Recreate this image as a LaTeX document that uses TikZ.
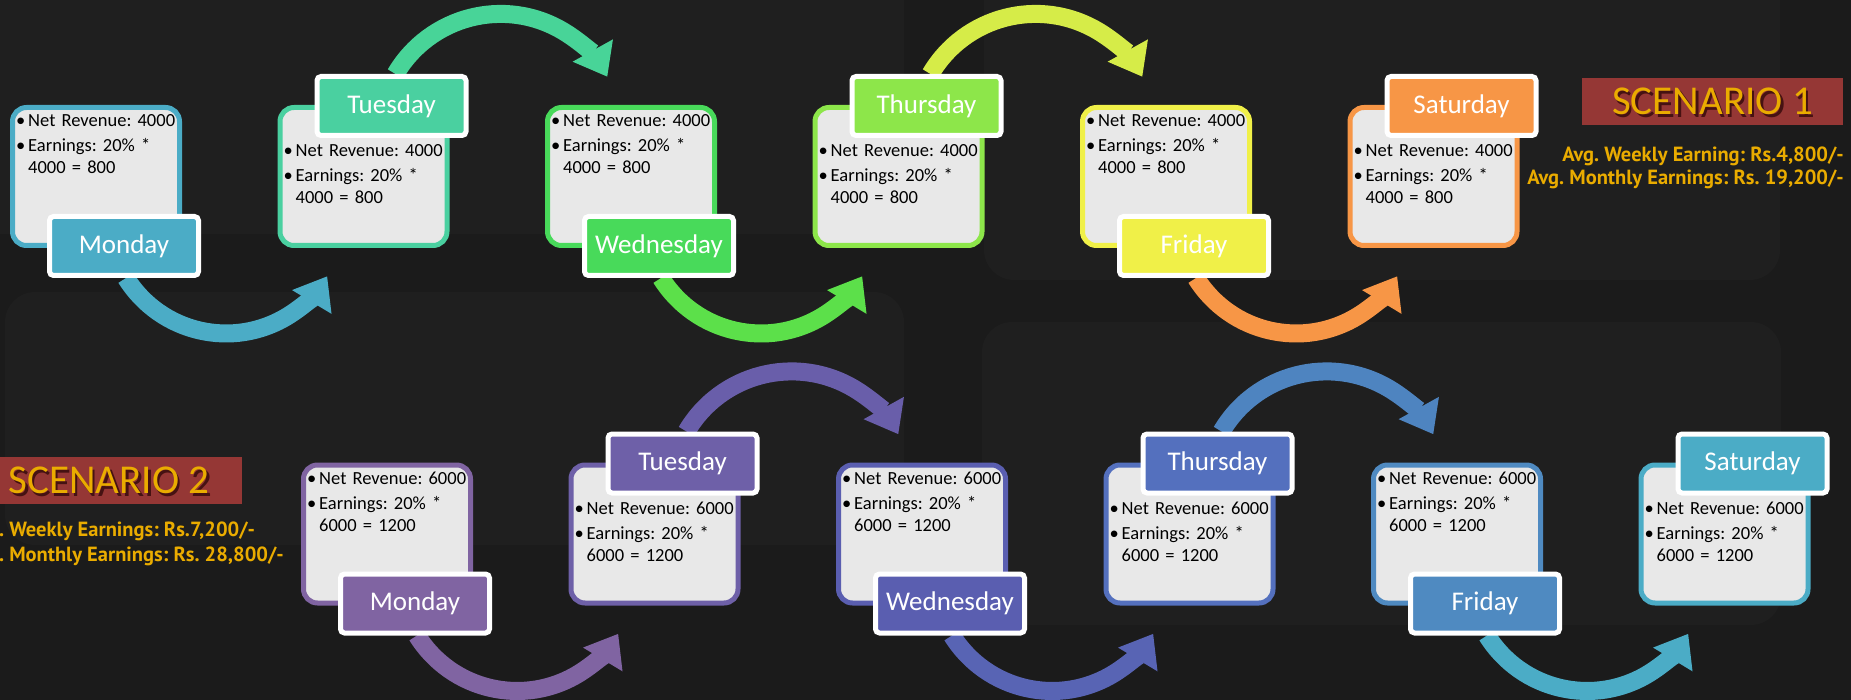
\documentclass[tikz,border=0pt]{standalone}
\usepackage{fontspec}
\setmainfont{Carlito}
\newfontfamily\avgfont{PT Sans}
\usetikzlibrary{calc,arrows.meta}
\pgfdeclarelayer{panels}
\pgfdeclarelayer{flows}
\pgfsetlayers{panels,flows,main}
\frenchspacing
\tikzset{
  daybox/.style={
    line width=5pt, fill=boxgray, rounded corners=14pt,
    minimum width=167pt, minimum height=138pt, inner sep=0pt,
  },
  daytag/.style={
    draw=white, line width=5pt, rounded corners=4pt, text=white,
    minimum width=149pt, minimum height=59pt, inner sep=0pt,
    font=\fontsize{27}{30}\selectfont,
  },
  daytext/.style={
    anchor=north west, align=left, inner sep=0pt, text width=162pt,
    font=\fontsize{18.5}{21.5}\selectfont,
  },
  flow/.style={line width=18pt, -{Triangle[width=44pt,length=30pt]}},
  scenbox/.style={fill=scenred, minimum height=47pt, inner sep=0pt},
  scentext/.style={font=\fontsize{41}{41}\selectfont, inner sep=0pt},
  avgtext/.style={text=gold, inner sep=0pt,
    font=\avgfont\bfseries\fontsize{20.5}{22}\selectfont},
}
\newcommand{\revlines}[2]{%
  \makebox[12pt][l]{\textbullet}Net Revenue: #1\\[4pt]
  \makebox[12pt][l]{\textbullet}Earnings: 20\% *\\
  \hspace*{12pt}#1 = #2}

\begin{document}
\begin{tikzpicture}[x=1pt, y=-1pt]
% Defining colors
\definecolor{bgdark}{RGB}{27,27,27}
\definecolor{paneldark}{RGB}{31,31,31}
\definecolor{boxgray}{RGB}{232,232,232}
\definecolor{scenred}{RGB}{149,55,53}
\definecolor{gold}{RGB}{234,172,0}
\definecolor{goldshadow}{RGB}{70,18,18}

% Scenario 1 days
\definecolor{mon1}{RGB}{75,172,198}
\definecolor{tue1}{RGB}{74,208,160}
\definecolor{wed1}{RGB}{72,218,90}
\definecolor{thu1}{RGB}{141,230,74}
\definecolor{fri1}{RGB}{240,240,72}
\definecolor{sat1}{RGB}{247,150,70}
% Scenario 2 days
\definecolor{mon2}{RGB}{128,100,162}
\definecolor{tue2}{RGB}{110,96,168}
\definecolor{wed2}{RGB}{90,94,176}
\definecolor{thu2}{RGB}{84,112,190}
\definecolor{fri2}{RGB}{79,138,193}
\definecolor{sat2}{RGB}{75,172,198}

% Defining colors of the curved arrows
\colorlet{arcA1}{mon1}
\definecolor{arcA2}{RGB}{72,212,152}
\definecolor{arcA3}{RGB}{92,224,74}
\definecolor{arcA4}{RGB}{214,236,72}
\colorlet{arcA5}{sat1}
\colorlet{arcB1}{mon2}
\definecolor{arcB2}{RGB}{105,94,170}
\definecolor{arcB3}{RGB}{88,100,180}
\definecolor{arcB4}{RGB}{78,132,192}
\colorlet{arcB5}{sat2}

\useasboundingbox (0,0) rectangle (1851,700);

% =:=:=:=:=:=:=:=:=:=:=:=:=:=:=:=:=:=:=
% Dark background and panels
% =:=:=:=:=:=:=:=:=:=:=:=:=:=:=:=:=:=:=
\begin{pgfonlayer}{panels}
\fill[bgdark] (0,0) rectangle (1851,700);
\fill[paneldark, rounded corners=30pt] (-40,-40) rectangle (904,234);
\fill[paneldark, rounded corners=30pt] (984,-40) rectangle (1780,280);
\fill[paneldark, rounded corners=30pt] (5,292) rectangle (904,545);
\fill[paneldark, rounded corners=30pt] (982,322) rectangle (1781,625);
\end{pgfonlayer}

% =:=:=:=:=:=:=:=:=:=:=:=:=:=:=:=:=:=:=
% Scenario 1 (top row)
% =:=:=:=:=:=:=:=:=:=:=:=:=:=:=:=:=:=:=
% Monday
\node[daybox, draw=mon1] (a1) at (96,176.5) {};
\node[daytext] (ta1) at ($(a1.north west)+(6,9)$) {\revlines{4000}{800}};
\node[daytag, fill=mon1] (la1) at ($(a1.center)+(28,69.5)$) {Monday};
% Tuesday
\node[daybox, draw=tue1] (a2) at (363.5,176.5) {};
\node[daytext] (ta2) at ($(a2.north west)+(6,39)$) {\revlines{4000}{800}};
\node[daytag, fill=tue1] (la2) at ($(a2.center)+(28,-70.5)$) {Tuesday};
% Wednesday
\node[daybox, draw=wed1] (a3) at (631,176.5) {};
\node[daytext] (ta3) at ($(a3.north west)+(6,9)$) {\revlines{4000}{800}};
\node[daytag, fill=wed1] (la3) at ($(a3.center)+(28,69.5)$) {Wednesday};
% Thursday
\node[daybox, draw=thu1] (a4) at (898.5,176.5) {};
\node[daytext] (ta4) at ($(a4.north west)+(6,39)$) {\revlines{4000}{800}};
\node[daytag, fill=thu1] (la4) at ($(a4.center)+(28,-70.5)$) {Thursday};
% Friday
\node[daybox, draw=fri1] (a5) at (1166,176.5) {};
\node[daytext] (ta5) at ($(a5.north west)+(6,9)$) {\revlines{4000}{800}};
\node[daytag, fill=fri1] (la5) at ($(a5.center)+(28,69.5)$) {Friday};
% Saturday
\node[daybox, draw=sat1] (a6) at (1433.5,176.5) {};
\node[daytext] (ta6) at ($(a6.north west)+(6,39)$) {\revlines{4000}{800}};
\node[daytag, fill=sat1] (la6) at ($(a6.center)+(28,-70.5)$) {Saturday};

% Scenario 1 title and averages
\node[scenbox, minimum width=261pt] (sc1) at (1712.5,101.5) {};
\node[scentext, text=goldshadow] at ($(sc1.center)+(2.5,2.5)$) {SCENARIO 1};
\node[scentext, text=gold] at (sc1.center) {SCENARIO 1};
\node[avgtext, anchor=base east] (w1) at (1844,162)
    {Avg. Weekly Earning: Rs.4,800/-};
\node[avgtext, anchor=base east] (m1) at (1844,185)
    {Avg. Monthly Earnings: Rs. 19,200/-};

% =:=:=:=:=:=:=:=:=:=:=:=:=:=:=:=:=:=:=
% Scenario 2 (bottom row)
% =:=:=:=:=:=:=:=:=:=:=:=:=:=:=:=:=:=:=
% Monday
\node[daybox, draw=mon2] (b1) at (387,534) {};
\node[daytext] (tb1) at ($(b1.north west)+(6,9)$) {\revlines{6000}{1200}};
\node[daytag, fill=mon2] (lb1) at ($(b1.center)+(28,69.5)$) {Monday};
% Tuesday
\node[daybox, draw=tue2] (b2) at (654.5,534) {};
\node[daytext] (tb2) at ($(b2.north west)+(6,39)$) {\revlines{6000}{1200}};
\node[daytag, fill=tue2] (lb2) at ($(b2.center)+(28,-70.5)$) {Tuesday};
% Wednesday
\node[daybox, draw=wed2] (b3) at (922,534) {};
\node[daytext] (tb3) at ($(b3.north west)+(6,9)$) {\revlines{6000}{1200}};
\node[daytag, fill=wed2] (lb3) at ($(b3.center)+(28,69.5)$) {Wednesday};
% Thursday
\node[daybox, draw=thu2] (b4) at (1189.5,534) {};
\node[daytext] (tb4) at ($(b4.north west)+(6,39)$) {\revlines{6000}{1200}};
\node[daytag, fill=thu2] (lb4) at ($(b4.center)+(28,-70.5)$) {Thursday};
% Friday
\node[daybox, draw=fri2] (b5) at (1457,534) {};
\node[daytext] (tb5) at ($(b5.north west)+(6,9)$) {\revlines{6000}{1200}};
\node[daytag, fill=fri2] (lb5) at ($(b5.center)+(28,69.5)$) {Friday};
% Saturday
\node[daybox, draw=sat2] (b6) at (1724.5,534) {};
\node[daytext] (tb6) at ($(b6.north west)+(6,39)$) {\revlines{6000}{1200}};
\node[daytag, fill=sat2] (lb6) at ($(b6.center)+(28,-70.5)$) {Saturday};

% Scenario 2 title and averages (cut by the left edge)
\node[scenbox, minimum width=264pt] (sc2) at (110,480.5) {};
\node[scentext, text=goldshadow] at ($(sc2.center)+(1.5,2.5)$) {SCENARIO 2};
\node[scentext, text=gold] at ($(sc2.center)+(-1,0)$) {SCENARIO 2};
\node[avgtext, anchor=base west] (w2) at (-33,536)
    {Avg. Weekly Earnings: Rs.7,200/-};
\node[avgtext, anchor=base west] (m2) at (-33,561)
    {Avg. Monthly Earnings: Rs. 28,800/-};

% =:=:=:=:=:=:=:=:=:=:=:=:=:=:=:=:=:=:=
% Curved arrows, behind the day tags
% =:=:=:=:=:=:=:=:=:=:=:=:=:=:=:=:=:=:=
\begin{pgfonlayer}{flows}
% below: from a lower tag to the next box
\draw[flow, color=arcA1] ($(la1.south)+(2,0)$)
    arc[start angle=148, end angle=31, radius=118];
\draw[flow, color=arcA3] ($(la3.south)+(2,0)$)
    arc[start angle=148, end angle=31, radius=118];
\draw[flow, color=arcA5] ($(la5.south)+(2,0)$)
    arc[start angle=148, end angle=31, radius=118];
\draw[flow, color=arcB1] ($(lb1.south)+(2,0)$)
    arc[start angle=148, end angle=31, radius=118];
\draw[flow, color=arcB3] ($(lb3.south)+(2,0)$)
    arc[start angle=148, end angle=31, radius=118];
\draw[flow, color=arcB5] ($(lb5.south)+(2,0)$)
    arc[start angle=148, end angle=31, radius=118];
% above: from an upper tag to the next box
\draw[flow, color=arcA2] ($(la2.north)+(4,0)$)
    arc[start angle=210.5, end angle=331, radius=122];
\draw[flow, color=arcA4] ($(la4.north)+(4,0)$)
    arc[start angle=210.5, end angle=331, radius=122];
\draw[flow, color=arcB2] ($(lb2.north)+(4,0)$)
    arc[start angle=210.5, end angle=331, radius=122];
\draw[flow, color=arcB4] ($(lb4.north)+(4,0)$)
    arc[start angle=210.5, end angle=331, radius=122];
\end{pgfonlayer}
\end{tikzpicture}
\end{document}
